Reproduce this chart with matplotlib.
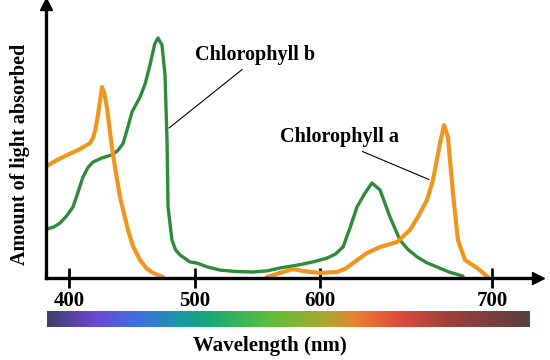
import matplotlib
matplotlib.use("Agg")
import matplotlib.pyplot as plt
import numpy as np
from matplotlib.colors import LinearSegmentedColormap

# Chlorophyll b (green) - wavelength (nm) and relative absorbance
wl_b = [382.5, 388.0, 392.9, 398.0, 403.2, 407.0, 411.1, 415.0, 419.0, 426.0, 434.1,
        438.5, 442.9, 446.5, 450.0, 456.4, 460.5, 464.3, 468.0, 470.6,
        473.8, 476.2, 477.8, 478.6, 481.7, 484.5, 488.1, 496.0, 501.6, 510.0, 520.0,
        533.0, 546.4, 558.0, 568.0, 578.0, 586.4, 596.0, 604.1, 609.0, 613.4, 617.5,
        621.5, 626.0, 630.2, 634.9, 640.7, 646.5, 651.0, 656.4, 662.0, 668.0, 675.0, 683.1]
abs_b = [0.204, 0.213, 0.229, 0.258, 0.296, 0.355, 0.421, 0.460, 0.483, 0.500, 0.513,
         0.530, 0.560, 0.625, 0.692, 0.754, 0.810, 0.888, 0.975, 1.0,
         0.971, 0.846, 0.575, 0.296, 0.158, 0.118, 0.096, 0.067, 0.062, 0.046, 0.033,
         0.027, 0.025, 0.030, 0.042, 0.050, 0.058, 0.069, 0.083, 0.100, 0.129, 0.210,
         0.296, 0.352, 0.396, 0.367, 0.254, 0.158, 0.120, 0.088, 0.064, 0.046, 0.025, 0.008]

# Chlorophyll a (orange), nan splits the two bands
wl_a = [382.5, 390.0, 398.4, 408.7, 416.7, 419.0, 421.0, 423.0, 426.2, 428.0, 430.2,
        434.1, 437.5, 440.5, 446.8, 451.0, 456.4, 461.5, 466.7, 474.6, np.nan,
        557.6, 568.0, 578.4, 586.4, 600.0, 609.9, 615.0, 619.2, 627.3, 634.9, 644.8,
        652.3, 657.0, 662.2, 665.7, 669.8, 672.1, 674.4, 677.3, 680.2, 684.3, 691.3, 697.7]
abs_a = [0.467, 0.490, 0.512, 0.537, 0.562, 0.583, 0.620, 0.679, 0.796, 0.770, 0.708,
         0.542, 0.430, 0.338, 0.200, 0.130, 0.075, 0.040, 0.021, 0.004, np.nan,
         0.004, 0.021, 0.037, 0.029, 0.021, 0.025, 0.040, 0.062, 0.104, 0.129, 0.150,
         0.200, 0.255, 0.325, 0.408, 0.562, 0.637, 0.587, 0.354, 0.158, 0.075, 0.042, 0.004]

ticks = [400, 500, 600, 700]

# the drawing's wavelength axis is not evenly spaced
knot_wl = [300, 400, 500, 600, 700, 800]
knot_pos = [-57, 69, 195, 320, 492, 664]

def fwd(x):
    return np.interp(x, knot_wl, knot_pos)

def inv(x):
    return np.interp(x, knot_pos, knot_wl)

# spectrum bar colours
spec_pos = [0, 0.10, 0.19, 0.275, 0.33, 0.46, 0.585, 0.64, 0.73, 0.83, 1.0]
spec_col = ["#40406a", "#6a48d8", "#3a72e2", "#1a98a2", "#14a878", "#5cbf3a",
            "#b0a530", "#ea8030", "#e04a3a", "#a0403c", "#5a3e40"]

serif = {"family": "Liberation Serif", "weight": "bold"}

fig = plt.figure(figsize=(5.5, 3.6), dpi=100)
ax = fig.add_axes([46/550, (360-278)/360, (538-46)/550, 274/360])
ax.set_xscale("function", functions=(fwd, inv))
ax.set_xlim(inv(46), inv(538))
ax.set_ylim(0, 274/240)

ax.plot(wl_b, abs_b, color="#2e8b3a", lw=2.4, solid_capstyle="round", solid_joinstyle="round")
ax.plot(wl_a, abs_a, color="#ef961f", lw=3.0, solid_capstyle="round", solid_joinstyle="round")

for s in ["top", "right"]:
    ax.spines[s].set_visible(False)
for s in ["bottom", "left"]:
    ax.spines[s].set_linewidth(2.4)
ax.set_yticks([])
ax.set_xticks(ticks)
ax.set_xticklabels([str(t) for t in ticks], fontdict=serif, fontsize=15)
ax.tick_params(axis="x", direction="inout", length=14, width=2, pad=2)

# arrow heads
ax.plot([1], [0], marker=">", ms=9, color="black", transform=ax.transAxes, clip_on=False)
ax.plot([0], [1], marker="^", ms=9, color="black", transform=ax.transAxes, clip_on=False)

ax.set_ylabel("Amount of light absorbed", fontdict=serif, fontsize=14.5)
ax.yaxis.set_label_coords(-0.033, 0.45)

ax.annotate("Chlorophyll b", xy=(479.4, 0.625), xytext=(548, 0.929), fontsize=14.5,
            fontfamily="Liberation Serif", fontweight="bold", ha="center", va="center",
            arrowprops=dict(arrowstyle="-", color="black", lw=0.8, shrinkA=2, shrinkB=0,
                            relpos=(0.44, 0)))
ax.annotate("Chlorophyll a", xy=(663.4, 0.41), xytext=(611.6, 0.5875), fontsize=14.5,
            fontfamily="Liberation Serif", fontweight="bold", ha="center", va="center",
            arrowprops=dict(arrowstyle="-", color="black", lw=0.8, shrinkA=3, shrinkB=0,
                            relpos=(0.6, 0)))

cmap = LinearSegmentedColormap.from_list("spec", list(zip(spec_pos, spec_col)))
bar = fig.add_axes([47/550, (360-327)/360, (530-47)/550, 16/360])
bar.imshow(np.linspace(0, 1, 400)[None, :], aspect="auto", cmap=cmap)
bar.set_axis_off()

fig.text(270/550, (360-346)/360, "Wavelength (nm)", ha="center", va="center",
         fontdict=serif, fontsize=15)

fig.savefig("out.png", dpi=100, facecolor="white")
